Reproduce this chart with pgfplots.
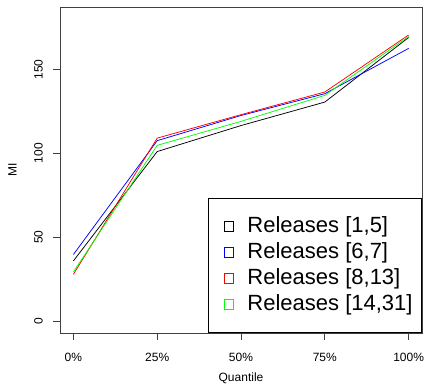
\documentclass[border=0pt]{standalone}
\usepackage{pgfplots}
\pgfplotsset{compat=1.18}
\usepackage{fontspec}
\setmainfont{Liberation Sans}
\definecolor{rgreen}{RGB}{0,255,0}
\begin{document}
\begin{tikzpicture}
\path[use as bounding box] (-60bp,-53bp) rectangle (368bp,333bp);
\begin{axis}[
  at={(0,0)}, anchor=south west,
  scale only axis, width=362bp, height=326bp,
  xmin=-0.16, xmax=4.16, ymin=-7.2, ymax=187.2,
  xtick={0,1,2,3,4},
  xticklabels={0\%,25\%,50\%,75\%,100\%},
  ytick={0,50,100,150},
  tick pos=left, tick align=outside,
  major tick length=7bp,
  axis line style={black!75, line width=0.8bp},
  tick style={black!75, line width=0.8bp},
  /pgf/number format/assume math mode=true,
  ticklabel style={font=\fontsize{12bp}{14bp}\selectfont},
  xticklabel style={anchor=base, yshift=-21.3bp},
  yticklabel style={xshift=-10.4bp, rotate=90, anchor=base},
  xlabel={Quantile}, ylabel={MI},
  label style={font=\fontsize{12bp}{14bp}\selectfont},
  xlabel style={at={(axis description cs:0.5,0)}, anchor=center, yshift=-45bp},
  ylabel style={at={(axis description cs:0,0.5)}, anchor=center, yshift=47.5bp},
  legend image code/.code={\path[draw=none, fill=none] (0bp,-4.8bp) rectangle (6.7bp,4.8bp);\draw[#1, line width=0.8bp, fill=none] (6.7bp,-4.8bp) rectangle (16.3bp,4.8bp);},
  legend cell align=left,
  legend style={at={(1,0)}, anchor=south east, draw=black, line width=0.8bp, fill=white,
    font=\fontsize{22bp}{26bp}\selectfont,
    inner xsep=9bp, inner ysep=16.7bp,
    row sep=3bp, column sep=13.5bp,
    nodes={inner sep=0pt, text height=18bp, text depth=5bp}},
]
\addplot[black, line width=0.75bp] coordinates {(0,35.8) (1,101) (2,116.5) (3,130.5) (4,169)};
\addlegendentry{Releases [1,5]}
\addplot[blue, line width=0.75bp] coordinates {(0,39.6) (1,107.5) (2,122.5) (3,135.5) (4,162.5)};
\addlegendentry{Releases [6,7]}
\addplot[red, line width=0.75bp] coordinates {(0,27.8) (1,109) (2,123) (3,136.5) (4,170.5)};
\addlegendentry{Releases [8,13]}
\addplot[rgreen, line width=0.75bp] coordinates {(0,29.2) (1,104.7) (2,119) (3,134.5) (4,169.6)};
\addlegendentry{Releases [14,31]}
\end{axis}
\end{tikzpicture}
\end{document}
